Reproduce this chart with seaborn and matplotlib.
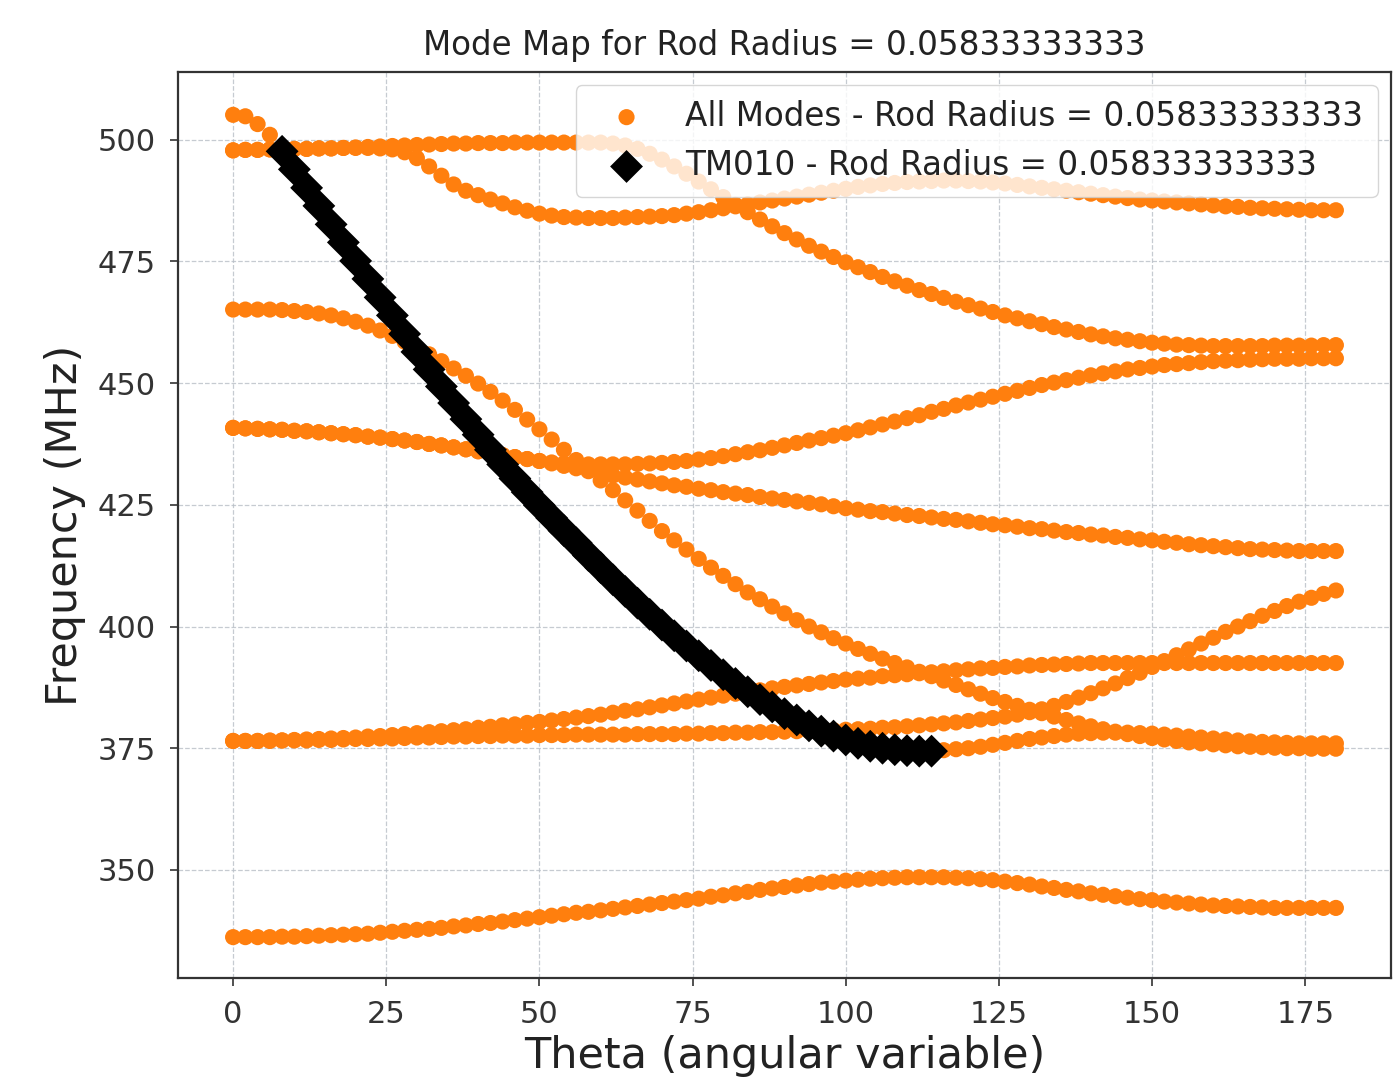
import numpy as np
import pandas as pd
import matplotlib
matplotlib.use("Agg")
import matplotlib.pyplot as plt
import seaborn as sns

# ---------------- data ----------------
theta = np.arange(0, 181, 2)   # sample grid, degrees

mode_1 = [505.1, 504.8, 503.2, 501.0, 497.6, 493.9, 490.1, 486.4, 482.6, 478.9,
          475.1, 471.4, 467.6, 463.9, 460.1, 456.4, 452.8, 449.3, 445.9, 442.6,
          439.4, 436.3, 433.3, 430.4, 427.6, 424.9, 422.3, 419.7, 417.2, 414.6,
          412.1, 409.6, 407.2, 404.8, 402.5, 400.3, 398.1, 396.0, 394.0, 392.0,
          390.1, 388.3, 386.6, 385.0, 383.5, 382.1, 380.8, 379.6, 378.5, 377.5,
          376.7, 376.0, 375.4, 375.0, 374.7, 374.5, 374.4, 374.4, 374.6, 374.8,
          375.0, 375.3, 375.7, 376.1, 376.5, 376.9, 377.2, 377.5, 377.8, 378.0,
          378.1, 378.2, 378.2, 378.2, 378.1, 378.0, 377.8, 377.6, 377.4, 377.2,
          377.0, 376.8, 376.6, 376.4, 376.3, 376.2, 376.1, 376.0, 376.0, 376.0,
          376.0]

mode_2 = [497.8, 497.9, 497.9, 498.0, 498.0, 498.1, 498.1, 498.2, 498.2, 498.3,
          498.4, 498.5, 498.6, 498.7, 498.8, 498.9, 499.0, 499.1, 499.2, 499.2,
          499.3, 499.3, 499.3, 499.4, 499.4, 499.4, 499.4, 499.4, 499.4, 499.4,
          499.4, 499.2, 498.8, 498.1, 497.1, 495.9, 494.5, 493.0, 491.4, 489.8,
          488.2, 486.6, 485.1, 483.6, 482.2, 480.8, 479.5, 478.2, 477.0, 475.9,
          474.8, 473.8, 472.8, 471.8, 470.9, 470.0, 469.1, 468.3, 467.5, 466.7,
          466.0, 465.3, 464.6, 463.9, 463.3, 462.7, 462.1, 461.5, 461.0, 460.5,
          460.0, 459.6, 459.2, 458.9, 458.6, 458.3, 458.1, 457.9, 457.8, 457.7,
          457.6, 457.6, 457.6, 457.6, 457.6, 457.7, 457.7, 457.7, 457.7, 457.8,
          457.8]

mode_3 = [497.8, 497.9, 497.9, 498.0, 498.0, 498.1, 498.1, 498.2, 498.2, 498.3,
          498.3, 498.3, 498.2, 498.0, 497.4, 496.2, 494.5, 492.6, 490.8, 489.5,
          488.6, 487.7, 486.9, 486.1, 485.4, 484.8, 484.4, 484.1, 484.0, 483.9,
          483.9, 483.9, 484.0, 484.1, 484.2, 484.3, 484.5, 484.8, 485.1, 485.5,
          485.9, 486.3, 486.7, 487.1, 487.5, 487.9, 488.3, 488.7, 489.1, 489.5,
          489.9, 490.3, 490.6, 490.9, 491.1, 491.3, 491.4, 491.5, 491.6, 491.6,
          491.5, 491.4, 491.2, 491.0, 490.7, 490.4, 490.1, 489.8, 489.5, 489.2,
          488.9, 488.6, 488.3, 488.0, 487.7, 487.5, 487.3, 487.1, 486.9, 486.7,
          486.5, 486.3, 486.2, 486.0, 485.9, 485.8, 485.7, 485.6, 485.5, 485.5,
          485.5]

mode_4 = [465.1, 465.1, 465.1, 465.1, 465.0, 464.8, 464.6, 464.3, 463.9, 463.3,
          462.6, 461.8, 460.8, 459.7, 458.5, 457.2, 455.9, 454.5, 453.0, 451.5,
          449.9, 448.2, 446.4, 444.5, 442.5, 440.5, 438.4, 436.3, 434.2, 432.1,
          430.0, 428.0, 425.9, 423.8, 421.7, 419.6, 417.7, 415.8, 413.9, 412.1,
          410.4, 408.7, 407.0, 405.6, 404.1, 402.7, 401.3, 400.0, 398.8, 397.6,
          396.5, 395.4, 394.4, 393.4, 392.5, 391.6, 390.7, 389.8, 388.9, 388.0,
          387.1, 386.2, 385.3, 384.5, 383.7, 382.9, 382.2, 381.5, 380.8, 380.1,
          379.5, 378.9, 378.4, 377.9, 377.5, 377.1, 376.8, 376.5, 376.2, 376.0,
          375.8, 375.6, 375.4, 375.3, 375.2, 375.1, 375.0, 375.0, 374.9, 374.9,
          374.9]

mode_5 = [440.8, 440.7, 440.6, 440.5, 440.4, 440.2, 440.1, 439.9, 439.7, 439.5,
          439.3, 439.0, 438.8, 438.5, 438.2, 437.9, 437.5, 437.2, 436.8, 436.4,
          436.0, 435.6, 435.2, 434.8, 434.4, 434.0, 433.7, 433.5, 433.4, 433.3,
          433.3, 433.3, 433.3, 433.4, 433.5, 433.6, 433.8, 434.0, 434.3, 434.6,
          435.0, 435.4, 435.8, 436.2, 436.7, 437.2, 437.7, 438.2, 438.7, 439.2,
          439.7, 440.3, 440.9, 441.5, 442.1, 442.8, 443.4, 444.1, 444.7, 445.4,
          446.0, 446.6, 447.2, 447.8, 448.4, 449.0, 449.6, 450.1, 450.6, 451.1,
          451.6, 452.0, 452.4, 452.8, 453.1, 453.4, 453.7, 453.9, 454.1, 454.3,
          454.5, 454.6, 454.7, 454.8, 454.9, 455.0, 455.0, 455.0, 455.1, 455.1,
          455.1]

mode_6 = [440.8, 440.7, 440.6, 440.5, 440.4, 440.2, 440.1, 439.9, 439.7, 439.5,
          439.3, 439.0, 438.8, 438.5, 438.2, 437.9, 437.5, 437.2, 436.8, 436.4,
          436.0, 435.6, 435.2, 434.8, 434.4, 434.0, 433.5, 433.0, 432.5, 431.9,
          431.4, 431.0, 430.6, 430.2, 429.8, 429.4, 429.0, 428.7, 428.3, 428.0,
          427.6, 427.3, 427.0, 426.6, 426.3, 426.0, 425.7, 425.4, 425.1, 424.7,
          424.3, 424.0, 423.7, 423.5, 423.2, 422.9, 422.7, 422.4, 422.1, 421.9,
          421.6, 421.3, 421.0, 420.8, 420.5, 420.2, 420.0, 419.7, 419.4, 419.2,
          418.9, 418.7, 418.4, 418.2, 417.9, 417.7, 417.4, 417.2, 416.9, 416.7,
          416.5, 416.3, 416.1, 415.9, 415.8, 415.7, 415.6, 415.5, 415.5, 415.5,
          415.5]

mode_7 = [376.5, 376.5, 376.5, 376.6, 376.6, 376.7, 376.8, 376.9, 377.0, 377.1,
          377.2, 377.4, 377.5, 377.7, 377.9, 378.1, 378.3, 378.5, 378.7, 378.9,
          379.2, 379.4, 379.7, 379.9, 380.2, 380.4, 380.7, 381.0, 381.3, 381.6,
          381.9, 382.3, 382.7, 383.0, 383.4, 383.8, 384.2, 384.6, 385.0, 385.4,
          385.8, 386.2, 386.6, 386.9, 387.3, 387.6, 387.9, 388.2, 388.5, 388.8,
          389.1, 389.3, 389.5, 389.8, 390.0, 390.2, 390.4, 390.6, 390.8, 391.0,
          391.2, 391.4, 391.5, 391.7, 391.8, 392.0, 392.1, 392.2, 392.3, 392.4,
          392.5, 392.5, 392.5, 392.5, 392.5, 392.5, 392.5, 392.5, 392.5, 392.5,
          392.5, 392.5, 392.5, 392.5, 392.5, 392.5, 392.5, 392.5, 392.5, 392.5,
          392.5]

mode_8 = [376.5, 376.5, 376.5, 376.5, 376.6, 376.6, 376.6, 376.7, 376.7, 376.8,
          376.9, 376.9, 377.0, 377.0, 377.1, 377.2, 377.2, 377.3, 377.4, 377.4,
          377.5, 377.5, 377.6, 377.6, 377.6, 377.7, 377.7, 377.7, 377.8, 377.8,
          377.8, 377.8, 377.8, 377.9, 377.9, 377.9, 377.9, 378.0, 378.0, 378.1,
          378.1, 378.2, 378.2, 378.3, 378.3, 378.4, 378.5, 378.5, 378.6, 378.7,
          378.8, 378.9, 379.0, 379.2, 379.3, 379.5, 379.7, 379.9, 380.1, 380.3,
          380.6, 380.9, 381.2, 381.5, 381.9, 382.4, 383.0, 383.7, 384.5, 385.4,
          386.3, 387.3, 388.3, 389.4, 390.5, 391.7, 392.9, 394.1, 395.3, 396.5,
          397.7, 398.9, 400.0, 401.1, 402.2, 403.2, 404.2, 405.1, 405.9, 406.7,
          407.4]

mode_9 = [336.2, 336.2, 336.2, 336.2, 336.3, 336.3, 336.4, 336.5, 336.6, 336.7,
          336.8, 336.9, 337.1, 337.3, 337.5, 337.7, 337.9, 338.1, 338.4, 338.6,
          338.9, 339.1, 339.4, 339.7, 340.0, 340.3, 340.6, 340.9, 341.2, 341.4,
          341.7, 342.0, 342.3, 342.6, 342.9, 343.2, 343.5, 343.8, 344.1, 344.5,
          344.8, 345.2, 345.5, 345.9, 346.2, 346.5, 346.8, 347.1, 347.4, 347.6,
          347.8, 348.0, 348.2, 348.3, 348.4, 348.5, 348.5, 348.5, 348.5, 348.4,
          348.3, 348.1, 347.9, 347.6, 347.3, 347.0, 346.6, 346.3, 345.9, 345.6,
          345.2, 344.9, 344.6, 344.3, 344.0, 343.8, 343.5, 343.3, 343.1, 342.9,
          342.7, 342.6, 342.5, 342.4, 342.3, 342.2, 342.2, 342.2, 342.2, 342.2,
          342.2]

# TM010 branch: part of mode_1 between theta = 8 and 114 deg
tm010_theta = theta[4:58]
tm010_freq = mode_1[4:58]

rod_radius = "0.05833333333"
x_ticks = [0, 25, 50, 75, 100, 125, 150, 175]
y_ticks = [350, 375, 400, 425, 450, 475, 500]

# ---------------- build tables ----------------
modes = [mode_1, mode_2, mode_3, mode_4, mode_5, mode_6, mode_7, mode_8, mode_9]
all_df = pd.concat(
    [pd.DataFrame({"theta": theta, "freq": m}) for m in modes], ignore_index=True
)
tm_df = pd.DataFrame({"theta": tm010_theta, "freq": tm010_freq})

# ---------------- plot ----------------
sns.set_theme(style="ticks")
plt.rcParams["font.family"] = ["DejaVu Sans"]

fig = plt.figure(figsize=(13.99, 10.89), dpi=100)
ax = fig.add_axes([0.1272, 0.1019, 0.8671, 0.8320])

sns.scatterplot(data=all_df, x="theta", y="freq", ax=ax, color="#ff7f0e",
                s=135, linewidth=0, edgecolor="none",
                label=f"All Modes - Rod Radius = {rod_radius}", zorder=3)
sns.scatterplot(data=tm_df, x="theta", y="freq", ax=ax, color="black",
                marker="D", s=280, linewidth=0, edgecolor="none",
                label=f"TM010 - Rod Radius = {rod_radius}", zorder=4)

ax.set_xlim(-9, 189)
ax.set_ylim(327.8, 513.9)
ax.set_xticks(x_ticks)
ax.set_yticks(y_ticks)
ax.grid(True, linestyle="--", linewidth=0.9, color="#b8bec6", alpha=0.8, zorder=0)
ax.set_axisbelow(True)

ax.tick_params(axis="both", labelsize=22, colors="#333333", length=6,
               width=1.2, pad=10)
for sp in ax.spines.values():
    sp.set_color("#333333")
    sp.set_linewidth(1.6)

ax.set_xlabel("Theta (angular variable)", fontsize=31, color="#222222", labelpad=4)
ax.set_ylabel("Frequency (MHz)", fontsize=31, color="#222222", labelpad=8)
ax.set_title(f"Mode Map for Rod Radius = {rod_radius}", fontsize=23.5,
             color="#222222", pad=12)

leg = ax.legend(loc="upper right", fontsize=23.5, frameon=True, framealpha=0.8,
                borderaxespad=0.4, handletextpad=0.7, labelspacing=0.5,
                borderpad=0.45, handlelength=2.2)
leg.get_frame().set_edgecolor("#cccccc")
for t in leg.get_texts():
    t.set_color("#222222")

fig.savefig("out.png", dpi=100)
